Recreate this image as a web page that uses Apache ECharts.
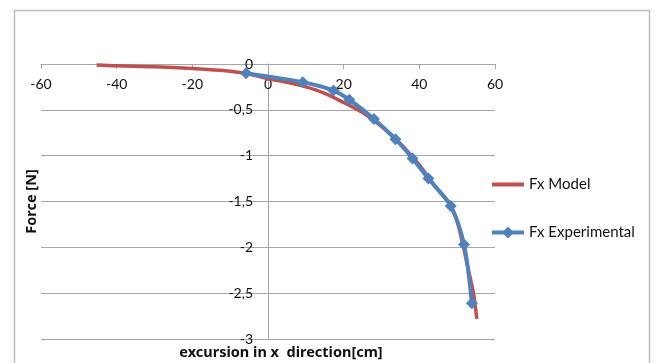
<!DOCTYPE html>
<html>
<head>
<meta charset="utf-8">
<script src="https://cdn.jsdelivr.net/npm/echarts@6/dist/echarts.min.js"></script>
<style>html,body{margin:0;padding:0;background:#fff;}#c{width:656px;height:363px;}</style>
</head>
<body>
<div id="c"></div>
<script>
// Fx Model (smooth curve)
var modelX = [-45.3, -40, -30, -20, -10, -5, 0, 5, 10, 15, 20, 25, 30, 35, 40, 44, 48, 50, 51.5, 53, 54.3, 55.2];
var modelY = [-0.01, -0.02, -0.03, -0.05, -0.08, -0.11, -0.16, -0.20, -0.25, -0.32, -0.42, -0.53, -0.68, -0.87, -1.10, -1.33, -1.52, -1.72, -1.97, -2.25, -2.50, -2.78];
// Fx Experimental (measured points)
var expX = [-5.8, 9.2, 17.3, 21.5, 28.0, 33.7, 38.2, 42.4, 48.3, 51.8, 53.9];
var expY = [-0.10, -0.20, -0.29, -0.39, -0.60, -0.82, -1.03, -1.25, -1.55, -1.97, -2.61];
var xTicks = [-60, -40, -20, 0, 20, 40, 60];
var yTicks = [0, -0.5, -1, -1.5, -2, -2.5, -3];

function pairs(xs, ys) { return xs.map(function (x, i) { return [x, ys[i]]; }); }

var chart = echarts.init(document.getElementById('c'));
var FONT = 'Lato';
var NAMEFONT = 'Noto Sans';
chart.setOption({
  animation: false,
  textStyle: { fontFamily: FONT },
  graphic: [{
    type: 'rect', silent: true, z: -10,
    shape: { x: 14.5, y: 10.5, width: 635, height: 370 },
    style: { fill: 'none', stroke: '#bdbdbd', lineWidth: 1.5 }
  }],
  grid: { left: 41, right: 161, top: 64, bottom: 24, containLabel: false, outerBoundsMode: 'none' },
  legend: {
    orient: 'vertical', left: 490, top: 177, padding: 0, itemGap: 33,
    itemWidth: 32, itemHeight: 15,
    textStyle: { fontFamily: FONT, fontSize: 15, color: '#111' },
    data: [
      { name: 'Fx Model', itemStyle: { opacity: 0 }, lineStyle: { width: 4 } },
      { name: 'Fx Experimental', lineStyle: { width: 4 } }
    ]
  },
  xAxis: {
    type: 'value', position: 'top', min: xTicks[0], max: xTicks[xTicks.length - 1], interval: 20,
    name: 'excursion in x  direction[cm]', nameLocation: 'middle', nameGap: -296,
    nameTextStyle: { fontFamily: NAMEFONT, fontWeight: 'bold', fontSize: 14.5, color: '#111', padding: [0, 0, 0, 26] },
    axisLine: { onZero: false, lineStyle: { color: '#a6a6a6', width: 1 } },
    axisTick: { show: true, inside: true, length: 5, lineStyle: { color: '#a6a6a6' } },
    axisLabel: { inside: true, margin: 13, fontSize: 14, color: '#111', fontFamily: FONT },
    splitLine: { show: false }
  },
  yAxis: {
    type: 'value', position: 'left', offset: -227,
    min: yTicks[yTicks.length - 1], max: yTicks[0], interval: 0.5,
    name: 'Force [N]', nameLocation: 'middle', nameGap: 229, nameRotate: 90,
    nameTextStyle: { fontFamily: NAMEFONT, fontWeight: 'bold', fontSize: 14.5, color: '#111' },
    axisLine: { show: true, onZero: false, lineStyle: { color: '#a6a6a6', width: 1 } },
    axisTick: { show: false },
    axisLabel: {
      margin: 15, fontSize: 14, color: '#111', fontFamily: FONT,
      formatter: function (v) { return String(v).replace('.', ','); }
    },
    splitLine: { show: true, lineStyle: { color: '#a6a6a6', width: 1 } }
  },
  series: [{
    name: 'Fx Model', type: 'line', smooth: 0.3, symbol: 'none',
    data: pairs(modelX, modelY),
    lineStyle: { color: '#c0504d', width: 3.5 },
    itemStyle: { color: '#c0504d' }, z: 2
  }, {
    name: 'Fx Experimental', type: 'line', smooth: 0.3,
    symbol: 'diamond', symbolSize: 12,
    data: pairs(expX, expY),
    lineStyle: { color: '#4f81bd', width: 4 },
    itemStyle: { color: '#4f81bd' }, z: 3
  }]
});
</script>
</body>
</html>
